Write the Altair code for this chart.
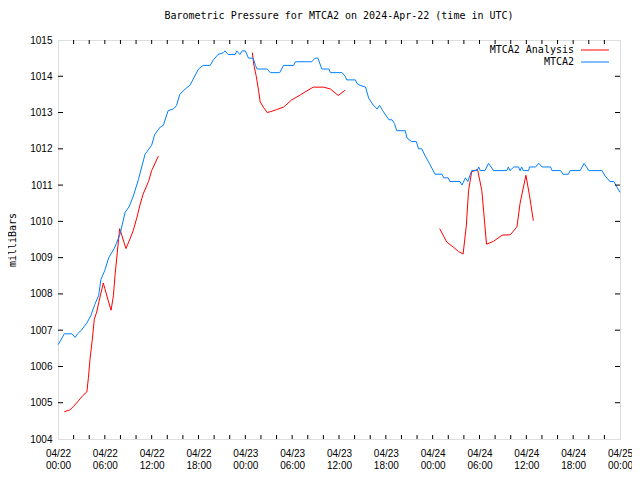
import altair as alt
import pandas as pd

BASE = pd.Timestamp("2024-04-22T00:00:00", tz="UTC")

# MTCA2 observations (hours since 2024-04-22 00:00 UTC, millibars)
blue_hours = [0.0, 0.3, 0.8, 1.8, 2.2, 2.5, 3.0, 3.7, 4.2, 4.7, 5.2, 5.5, 6.0, 6.5, 7.2, 7.5,
              7.95, 8.6, 9.1, 9.65, 10.3, 11.15, 12.0, 12.4, 13.1, 13.5, 14.1, 14.8, 15.2,
              15.6, 16.3, 16.9, 18.0, 18.6, 19.5, 19.9, 20.5, 21.2, 21.4, 21.8, 22.7, 22.9,
              23.3, 23.6, 24.0, 24.4, 25.0, 25.3, 25.5, 26.8, 27.2, 28.4, 28.9, 30.2, 30.4,
              32.5, 32.95, 33.3, 33.8, 34.7, 34.9, 36.4, 36.8, 37.0, 38.1, 38.3, 38.7, 39.4,
              39.8, 40.4, 40.9, 41.2, 41.6, 42.4, 42.8, 43.1, 43.4, 44.5, 44.7, 45.3, 45.9,
              46.2, 46.6, 47.05, 47.7, 48.3, 49.2, 49.4, 50.0, 50.2, 51.5, 51.75, 52.2, 52.5,
              53.0, 53.7, 53.9, 54.1, 54.7, 55.15, 55.8, 57.5, 57.7, 57.9, 58.4, 59.0, 59.2,
              59.4, 59.6, 60.3, 60.4, 61.2, 61.6, 62.0, 63.1, 63.3, 64.4, 64.7, 65.4, 65.6,
              66.9, 67.4, 68.0, 69.7, 70.1, 70.7, 71.2, 71.6, 72.0]
blue_values = [1006.6, 1006.7, 1006.9, 1006.9, 1006.8, 1006.9, 1007.0, 1007.2, 1007.4, 1007.7,
               1007.95, 1008.4, 1008.65, 1009.0, 1009.25, 1009.4, 1009.65, 1010.25, 1010.4,
               1010.7, 1011.15, 1011.85, 1012.1, 1012.4, 1012.6, 1012.65, 1013.05, 1013.1,
               1013.2, 1013.5, 1013.65, 1013.75, 1014.2, 1014.3, 1014.3, 1014.45, 1014.6,
               1014.65, 1014.7, 1014.6, 1014.6, 1014.7, 1014.6, 1014.7, 1014.7, 1014.5,
               1014.5, 1014.3, 1014.2, 1014.2, 1014.1, 1014.1, 1014.3, 1014.3, 1014.4, 1014.4,
               1014.5, 1014.5, 1014.2, 1014.2, 1014.1, 1014.1, 1014.0, 1013.9, 1013.9, 1013.8,
               1013.75, 1013.7, 1013.4, 1013.2, 1013.1, 1013.2, 1013.05, 1012.8, 1012.8,
               1012.7, 1012.5, 1012.5, 1012.3, 1012.2, 1012.2, 1012.0, 1012.0, 1011.8,
               1011.55, 1011.3, 1011.3, 1011.2, 1011.2, 1011.1, 1011.1, 1011.0, 1011.2,
               1011.1, 1011.4, 1011.4, 1011.5, 1011.4, 1011.4, 1011.6, 1011.4, 1011.4, 1011.5,
               1011.4, 1011.5, 1011.5, 1011.4, 1011.5, 1011.4, 1011.4, 1011.5, 1011.5, 1011.6,
               1011.5, 1011.5, 1011.4, 1011.4, 1011.3, 1011.3, 1011.4, 1011.4, 1011.6, 1011.4,
               1011.4, 1011.25, 1011.1, 1011.1, 1010.95, 1010.8]

# MTCA2 Analysis (three separate runs)
red_hours = [0.8, 1.5, 2.0, 2.6, 3.2, 3.7, 3.9, 4.1, 4.4, 4.65, 4.96, 5.26, 5.8, 6.0, 6.45, 6.8,
             7.1, 7.3, 7.6, 7.9, 8.2, 8.7, 9.1, 9.65, 10.1, 10.5, 10.9, 11.6, 12.0, 12.86,
             24.9, 25.1, 25.4, 25.7, 25.9, 26.3, 26.8, 27.3, 28.0, 28.9, 29.95, 31.0, 31.9,
             32.7, 34.0, 34.9, 35.9, 36.8,
             48.9, 49.8, 50.7, 51.3, 51.9, 52.3, 52.6, 53.0, 53.75, 54.3, 54.9, 55.8, 56.9,
             57.95, 58.8, 59.2, 59.95, 60.4, 60.9]
red_values = [1004.75, 1004.8, 1004.9, 1005.05, 1005.2, 1005.3, 1005.7, 1006.2, 1006.75, 1007.3,
              1007.5, 1007.8, 1008.3, 1008.15, 1007.8, 1007.55, 1007.95, 1008.5, 1009.15,
              1009.8, 1009.6, 1009.25, 1009.45, 1009.75, 1010.1, 1010.45, 1010.75, 1011.1,
              1011.4, 1011.8,
              1014.65, 1014.3, 1014.0, 1013.6, 1013.3, 1013.15, 1013.0, 1013.03, 1013.08,
              1013.15, 1013.35, 1013.48, 1013.6, 1013.7, 1013.7, 1013.65, 1013.47, 1013.62,
              1009.8, 1009.43, 1009.28, 1009.17, 1009.1, 1009.85, 1010.85, 1011.37, 1011.43,
              1010.85, 1009.37, 1009.45, 1009.62, 1009.63, 1009.85, 1010.5, 1011.27, 1010.72,
              1010.02]
red_segment = [1] * 30 + [2] * 18 + [3] * 19

series_names = ["MTCA2 Analysis", "MTCA2"]
series_colors = ["#ff0000", "#0080ff"]
y_ticks = list(range(1004, 1016))
x_minor_hours = list(range(2, 72, 2))
x_label_hours = list(range(0, 73, 6))

FONT = "DejaVu Sans Mono"
W, H = 562, 399


def to_iso(hours):
    t = BASE + pd.to_timedelta(pd.Series(hours, dtype=float), unit="h")
    return t.dt.strftime("%Y-%m-%dT%H:%M:%SZ").tolist()


def to_ms(hours):
    return [int((BASE + pd.Timedelta(hours=h)).timestamp() * 1000) for h in hours]


blue = pd.DataFrame({"time": to_iso(blue_hours), "value": blue_values,
                     "series": series_names[1], "seg": 0})
red = pd.DataFrame({"time": to_iso(red_hours), "value": red_values,
                    "series": series_names[0], "seg": red_segment})
lines_df = pd.concat([red, blue], ignore_index=True)

xscale = alt.Scale(type="utc", domain=[to_ms([0])[0], to_ms([72])[0]], nice=False)
yscale = alt.Scale(domain=[1004, 1015], nice=False, zero=False)

x_axis = alt.Axis(values=to_ms(x_label_hours), ticks=False, domain=False, grid=False,
                  labelExpr="[utcFormat(datum.value, '%m/%d'), utcFormat(datum.value, '%H:%M')]",
                  labelLineHeight=12, labelPadding=9, labelBaseline="top",
                  labelOverlap=False, labelFlush=False)
y_axis = alt.Axis(values=y_ticks, format="d", ticks=False, domain=False, grid=False,
                  labelPadding=6, labelOverlap=False, labelFlush=False,
                  title="milliBars", titleAngle=270, titleX=-46, titleY=H / 2,
                  titleAlign="center", titleBaseline="middle", titleFontWeight="normal",
                  titleFont=FONT, titleFontSize=10, titleColor="black")


def xe(field="time:T"):
    return alt.X(field, scale=xscale, axis=x_axis, title=None)


def ye(field="value:Q"):
    return alt.Y(field, scale=yscale, axis=y_axis, title="milliBars")


lines = alt.Chart(lines_df).mark_line(strokeWidth=1).encode(
    x=xe(),
    y=ye(),
    color=alt.Color("series:N",
                    scale=alt.Scale(domain=series_names, range=series_colors),
                    legend=None),
    detail="seg:N",
)

xt_df = pd.DataFrame({"time": to_iso(x_minor_hours)})
yt_df = pd.DataFrame({"value": y_ticks[1:-1]})

xticks_bottom = alt.Chart(xt_df).mark_rule(color="black", strokeWidth=1).encode(
    x=xe(), y=alt.value(H), y2=alt.value(H - 4))
xticks_top = alt.Chart(xt_df).mark_rule(color="black", strokeWidth=1).encode(
    x=xe(), y=alt.value(0), y2=alt.value(4))
yticks_left = alt.Chart(yt_df).mark_rule(color="black", strokeWidth=1).encode(
    y=ye(), x=alt.value(0), x2=alt.value(5))
yticks_right = alt.Chart(yt_df).mark_rule(color="black", strokeWidth=1).encode(
    y=ye(), x=alt.value(W - 5), x2=alt.value(W))

# legend (gnuplot style: label on the left, line sample on the right)
legend_layers = []
for i, (name, col) in enumerate(zip(series_names, series_colors)):
    row_y = 10 + 12 * i
    entry = pd.DataFrame({"label": [name]})
    legend_layers.append(
        alt.Chart(entry).mark_text(align="right", baseline="middle", font=FONT,
                                   fontSize=10, color="black").encode(
            text="label:N", x=alt.value(516), y=alt.value(row_y)))
    legend_layers.append(
        alt.Chart(entry).mark_rule(color=col, strokeWidth=1).encode(
            x=alt.value(523), x2=alt.value(551), y=alt.value(row_y)))

chart = alt.layer(lines, xticks_bottom, xticks_top, yticks_left, yticks_right,
                  *legend_layers).properties(
    width=W, height=H,
    autosize=alt.AutoSizeParams(type="none"),
    padding={"left": 50, "top": 32, "right": 12, "bottom": 33},
    title=alt.Title("Barometric Pressure for MTCA2 on 2024-Apr-22 (time in UTC)",
                    font=FONT, fontSize=10, fontWeight="normal", anchor="middle",
                    baseline="alphabetic", offset=6, color="black"),
).configure_view(
    stroke="black", strokeWidth=1
).configure_axis(
    labelFont=FONT, labelFontSize=10, labelColor="black"
).configure(background="white")

chart.save("out.html", embed_options={"renderer": "svg", "actions": False})
